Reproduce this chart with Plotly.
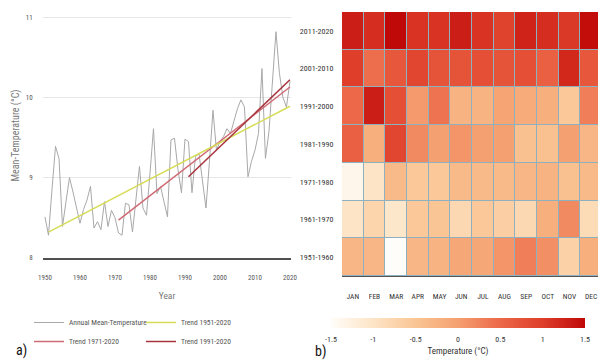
import plotly.graph_objects as go

# ---------------- data: panel a ----------------
years = list(range(1950, 2021))
annual_temp = [8.51, 8.28, 8.85, 9.39, 9.24, 8.39, 8.70, 9.00, 8.82, 8.62,
               8.43, 8.60, 8.72, 8.89, 8.37, 8.45, 8.35, 8.70, 8.39, 8.59,
               8.50, 8.31, 8.28, 8.68, 8.66, 8.32, 8.72, 9.14, 8.62, 8.53,
               9.05, 9.61, 8.80, 8.89, 8.70, 8.51, 9.47, 9.49, 9.10, 8.81,
               9.48, 9.45, 8.81, 9.26, 9.30, 8.95, 8.62, 9.20, 9.84, 9.34,
               9.45, 9.51, 9.61, 9.55, 9.70, 9.86, 9.97, 9.88, 9.01, 9.20,
               9.34, 9.55, 10.36, 9.24, 9.57, 10.20, 10.82, 10.30, 10.00, 9.88,
               10.20]
trend1951_years = [1951, 2020]
trend1951_vals = [8.32, 9.89]
trend1971_years = [1971, 2020]
trend1971_vals = [8.47, 10.13]
trend1991_years = [1991, 2020]
trend1991_vals = [9.01, 10.22]

# ---------------- data: panel b ----------------
months = ["JAN", "FEB", "MAR", "APR", "MAY", "JUN", "JUL", "AUG", "SEP", "OCT", "NOV", "DEC"]
decades = ["1951-1960", "1961-1970", "1971-1980", "1981-1990", "1991-2000", "2001-2010", "2011-2020"]
anom_1951_1960 = [-0.30, -0.30, -1.50, -0.30, -0.25, -0.10, -0.10, 0.10, 0.30, 0.15, -0.70, -0.20]
anom_1961_1970 = [-1.00, -0.75, -1.05, -0.55, -0.50, -0.80, -0.55, -0.65, -0.80, -0.20, 0.20, -0.85]
anom_1971_1980 = [-1.35, -1.00, -0.35, -0.55, -0.55, -0.35, -0.35, -0.35, -0.30, -0.25, -0.45, -0.35]
anom_1981_1990 = [0.60, -0.20, 0.90, 0.20, 0.00, 0.10, 0.00, 0.00, -0.45, -0.45, 0.00, -0.30]
anom_1991_2000 = [0.50, 1.30, 0.80, 0.05, 0.40, -0.25, -0.25, -0.05, -0.15, -0.20, -0.55, 0.30]
anom_2001_2010 = [1.00, 0.45, 0.70, 0.90, 0.75, 0.75, 0.80, 0.75, 0.80, 0.60, 1.20, 0.70]
anom_2011_2020 = [1.30, 1.15, 1.50, 1.10, 1.10, 1.30, 1.10, 0.95, 1.25, 1.15, 1.05, 1.45]
z_values = [anom_1951_1960, anom_1961_1970, anom_1971_1980, anom_1981_1990,
            anom_1991_2000, anom_2001_2010, anom_2011_2020]
cbar_ticks = [-1.5, -1, -0.5, 0, 0.5, 1, 1.5]
cbar_ticktext = ["-1.5", "-1", "-0.5", "0", "0.5", "1", "1.5"]

# The page body has an 8px default margin: the figure is drawn at (8, 8),
# so it is sized to fill the rest of the 606x363 window.
OFF = 8
W, H = 606 - OFF, 363 - OFF
def px_x(p):
    return (p - OFF) / W
def px_y(p):
    return 1 - (p - OFF) / H

FONT = "Roboto Condensed, Liberation Sans Narrow, DejaVu Sans Condensed, Liberation Sans, Arial, sans-serif"
def f(size, color="#555"):
    return dict(size=size, color=color, family=FONT)

fig = go.Figure()

fig.add_trace(go.Scatter(x=years, y=annual_temp, mode="lines", name="Annual Mean-Temperature",
                         line=dict(color="#a8a8a8", width=1), xaxis="x", yaxis="y", legend="legend"))
fig.add_trace(go.Scatter(x=trend1971_years, y=trend1971_vals, mode="lines", name="Trend 1971-2020",
                         line=dict(color="#cf6b74", width=1.5), xaxis="x", yaxis="y", legend="legend"))
fig.add_trace(go.Scatter(x=trend1951_years, y=trend1951_vals, mode="lines", name="Trend 1951-2020",
                         line=dict(color="#d6dc55", width=1.5), xaxis="x", yaxis="y", legend="legend2"))
fig.add_trace(go.Scatter(x=trend1991_years, y=trend1991_vals, mode="lines", name="Trend 1991-2020",
                         line=dict(color="#a8343e", width=1.5), xaxis="x", yaxis="y", legend="legend2"))

colorscale = [
    [0.0, "#fffdf9"],
    [1/6, "#fde4c6"],
    [2/6, "#fac594"],
    [3/6, "#f5a070"],
    [4/6, "#ec6848"],
    [5/6, "#de3e2a"],
    [1.0, "#bf0808"],
]

fig.add_trace(go.Heatmap(
    x=months, y=decades, z=z_values, zmin=-1.5, zmax=1.5,
    colorscale=colorscale, xgap=1, ygap=1, xaxis="x2", yaxis="y2",
    showscale=True,
    colorbar=dict(
        orientation="h", x=px_x(458), xanchor="center", y=px_y(318), yanchor="top",
        len=254 / W, lenmode="fraction", thickness=10, outlinewidth=0,
        xpad=0, ypad=0,
        tickvals=cbar_ticks, ticktext=cbar_ticktext,
        ticks="outside", ticklen=5, tickcolor="rgba(0,0,0,0)",
        tickfont=f(8, "#333"),
        title=dict(text="Temperature (°C)", side="bottom", font=f(9, "#333")),
    ),
))

# heatmap cell border background
HM_LEFT, HM_RIGHT, HM_TOP, HM_BOTTOM = 342, 602, 12, 276
fig.add_shape(type="rect", xref="paper", yref="paper",
              x0=px_x(HM_LEFT), x1=px_x(HM_RIGHT), y0=px_y(HM_BOTTOM), y1=px_y(HM_TOP),
              fillcolor="#8fb0bf", line=dict(width=0), layer="below")

fig.update_layout(
    width=W, height=H,
    margin=dict(l=0, r=0, t=0, b=0, autoexpand=False),
    paper_bgcolor="white", plot_bgcolor="white",
    font=dict(family=FONT, color="#555"),
    showlegend=True,
    xaxis=dict(domain=[px_x(43), px_x(291)], range=[1949.43, 2020.3],
               tickvals=[1950, 1960, 1970, 1980, 1990, 2000, 2010, 2020],
               tickfont=f(7, "#555"),
               showgrid=False, zeroline=False, showline=True, linecolor="#505050", linewidth=1.5,
               ticks="outside", ticklen=12, tickcolor="rgba(0,0,0,0)",
               title=dict(text="Year", font=f(9.5, "#777"), standoff=12),
               automargin=False, anchor="y"),
    yaxis=dict(domain=[px_y(257.7), px_y(13.3)], range=[8, 11.05],
               tickvals=[8, 9, 10, 11], tickfont=f(7, "#555"),
               showgrid=True, gridcolor="#e6e6e6", gridwidth=1, zeroline=False, showline=False,
               ticks="outside", ticklen=8, tickcolor="rgba(0,0,0,0)",
               title=dict(text="Mean-Temperature (°C)", font=f(10, "#777"), standoff=4),
               automargin=False, anchor="x"),
    xaxis2=dict(domain=[px_x(HM_LEFT), px_x(HM_RIGHT)], anchor="y2", type="category",
                tickfont=f(7.5, "#333"),
                showgrid=False, zeroline=False, showline=True, linecolor="#555", linewidth=1.2,
                ticks="outside", ticklen=13, tickcolor="rgba(0,0,0,0)", automargin=False),
    yaxis2=dict(domain=[px_y(HM_BOTTOM), px_y(HM_TOP)], anchor="x2", type="category",
                tickfont=f(8, "#333"),
                showgrid=False, zeroline=False, showline=False,
                ticks="outside", ticklen=6, tickcolor="rgba(0,0,0,0)", automargin=False),
    legend=dict(x=px_x(29), y=px_y(308), xanchor="left", yanchor="top",
                orientation="v", bgcolor="rgba(0,0,0,0)", itemwidth=30,
                font=f(7.5, "#555"), tracegroupgap=0),
    legend2=dict(x=px_x(141), y=px_y(308), xanchor="left", yanchor="top",
                 orientation="v", bgcolor="rgba(0,0,0,0)", itemwidth=30,
                 font=f(7.5, "#555"), tracegroupgap=0),
    annotations=[
        dict(text="a)", x=px_x(14), y=px_y(350), xref="paper", yref="paper",
             xanchor="left", yanchor="middle", showarrow=False,
             font=dict(size=14, color="#111", family=FONT)),
        dict(text="b)", x=px_x(313), y=px_y(351), xref="paper", yref="paper",
             xanchor="left", yanchor="middle", showarrow=False,
             font=dict(size=14, color="#111", family=FONT)),
    ],
)

fig.write_html("out.html")
